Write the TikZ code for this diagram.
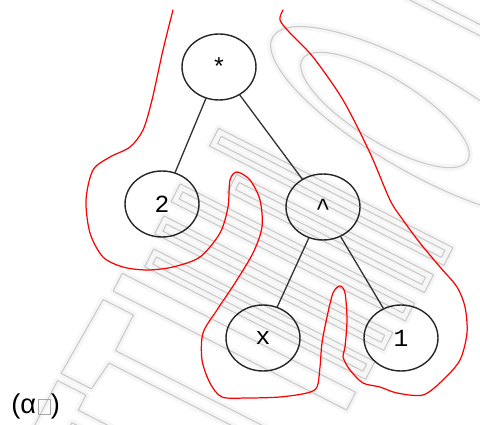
\documentclass[tikz,border=0pt]{standalone}
\usepackage{fontspec}
\setmainfont{Liberation Sans}
\newfontfamily\nodefont{Liberation Mono}
\usetikzlibrary{shapes.geometric}
% empty glyph box after the alpha
\newcommand{\missingbox}{{\kern0.06em\color{gray!70}\setlength{\fboxsep}{0pt}\setlength{\fboxrule}{0.45pt}\fbox{\rule{0pt}{0.52em}\hspace{0.42em}}}}

\begin{document}
\begin{tikzpicture}[line cap=round, line join=round, x=0.02cm, y=-0.02cm,
  treenode/.style={ellipse, draw=black!85, line width=0.8pt, inner sep=0pt,
    minimum width=1.48cm, minimum height=1.32cm, font=\nodefont\fontsize{14}{14}\selectfont},
  treeedge/.style={draw=black!80, line width=0.75pt},
  wmline/.style={draw=gray!42, line width=0.6pt, preaction={draw=gray!7, line width=4pt}},
  outline/.style={draw=red, line width=0.7pt}]
\useasboundingbox (0,0) rectangle (480,425);
% Watermark: the two rings top right
\draw[wmline, rotate around={-30:(420,122)}] (420,122) ellipse [x radius=170, y radius=50];
\draw[wmline, rotate around={-31.6:(385,110)}] (385,110) ellipse [x radius=97, y radius=32];
% Watermark: slanted bars
\begin{scope}[rotate=-27]
\foreach \ua/\ub/\va/\vb in {253/516/15/35, 290/511/48/68, 244/507/82/102,
    244/501/118/138, 250/498/152/172} {
  \draw[wmline] (\ua,\va) rectangle (\ub,\vb);
  \draw[wmline] (\ua+6,\va+6) rectangle (\ub-6,\vb-6);
}
\draw[wmline] (233,188) rectangle (495,208);
% comb shape lower left
\draw[wmline] (228,220) -- (262,220) -- (262,260) -- (520,260) -- (520,274)
  -- (262,274) -- (258,305) -- (224,305) -- cycle;
\draw[wmline] (224,313) -- (256,313) -- (256,330) -- (520,330) -- (520,344)
  -- (256,344) -- (256,380) -- (224,380) -- cycle;
% lines leaving the top right corner
\draw[wmline] (350,-186) -- (520,-186);
\draw[wmline] (370,-196) -- (520,-196);
\end{scope}
% Red outline around the subtrees
\draw[outline] plot[smooth] coordinates {(173,10) (163,50) (152,100) (143,130)
  (130,147) (110,157) (93,170) (86,200) (90,233) (103,257) (123,267) (147,270)
  (173,267) (200,257) (220,233) (228,207) (230,180) (237,172) (250,180)
  (260,200) (262,227) (253,253) (235,283) (217,310) (203,333) (202,360)
  (210,383) (222,397) (247,398) (280,397) (307,393) (317,387) (320,367)
  (322,343) (327,317) (333,293) (340,286) (345,293) (347,320) (345,347)
  (343,357) (350,370) (363,383) (380,387) (397,393) (423,395) (443,380)
  (460,360) (467,333) (465,307) (457,287) (440,267) (420,243) (403,220)
  (390,200) (370,153) (343,100) (313,57) (290,33) (280,20) (283,10)};
% Tree
\node[treenode] (times) at (219,67) {*};
\node[treenode] (two) at (162,204) {2};
\node[treenode] (pow) at (323,207) {\textasciicircum};
\node[treenode] (ex) at (263,338) {x};
\node[treenode] (one) at (401,338) {1};
\draw[treeedge] (times) -- (two);
\draw[treeedge] (times) -- (pow);
\draw[treeedge] (pow) -- (ex);
\draw[treeedge] (pow) -- (one);
% Caption
\node[anchor=base west, inner sep=0pt, font=\fontsize{15.5}{17}\selectfont] (caption) at (11,414) {(α\missingbox)};
\end{tikzpicture}
\end{document}
